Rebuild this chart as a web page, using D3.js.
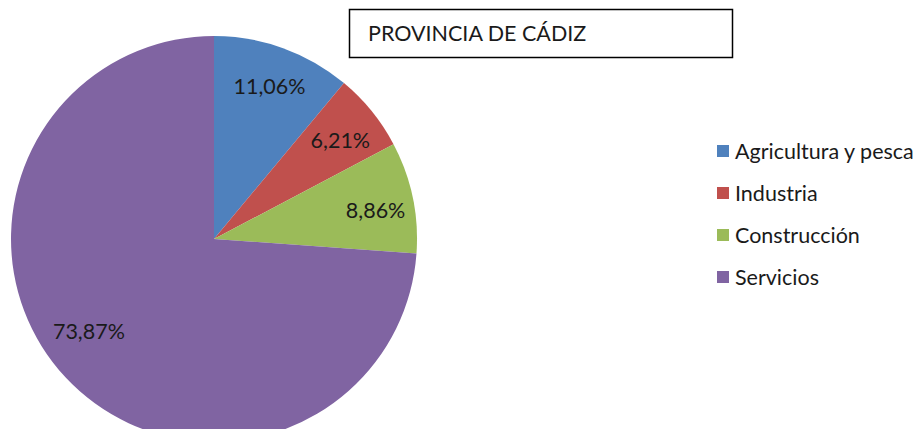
<!DOCTYPE html>
<html><head><meta charset="utf-8">
<script src="https://cdn.jsdelivr.net/npm/d3@7"></script>
<style>body{margin:0;background:#fff;}svg{display:block;}</style>
</head><body>
<svg id="chart" width="919" height="429"></svg>
<script>
const title = "PROVINCIA DE CÁDIZ";
const categories = ["Agricultura y pesca", "Industria", "Construcción", "Servicios"];
const values = [11.06, 6.21, 8.86, 73.87];
const labels = ["11,06%", "6,21%", "8,86%", "73,87%"];
const colors = ["#4F81BD", "#C0504D", "#9BBB59", "#8064A2"];

const svg = d3.select("#chart");
const font = "Lato, 'Open Sans', sans-serif";
const cx = 214, cy = 239, r = 203;
// small style nudges for label placement (Excel "best fit")
const labelNudge = [[1, -3], [2, 2], [5, 4], [-8, -17]];

const pie = d3.pie().sort(null).value(d => d)(values);
const arc = d3.arc().innerRadius(0).outerRadius(r);
const labelArc = d3.arc().innerRadius(160).outerRadius(160);
const color = d3.scaleOrdinal().domain(categories).range(colors);

const g = svg.append("g").attr("transform", `translate(${cx},${cy})`);
g.selectAll("path").data(pie).join("path")
  .attr("d", arc).attr("fill", (d, i) => color(categories[i]));

g.selectAll("text").data(pie).join("text")
  .attr("transform", (d, i) => {
    const c = labelArc.centroid(d);
    return `translate(${c[0] + labelNudge[i][0]},${c[1] + labelNudge[i][1]})`;
  })
  .attr("text-anchor", "middle").attr("dominant-baseline", "central")
  .attr("font-family", font).attr("font-size", 21.5).attr("fill", "#1a1a1a")
  .text((d, i) => labels[i]);

// Title box
svg.append("rect").attr("x", 349.5).attr("y", 9.5).attr("width", 383).attr("height", 48)
  .attr("fill", "#fff").attr("stroke", "#000").attr("stroke-width", 1.5);
svg.append("text").attr("x", 368).attr("y", 41).attr("font-family", font)
  .attr("font-size", 21.5).attr("fill", "#1a1a1a").text(title);

// Legend
const ly = d3.scalePoint().domain(categories).range([151, 277]);
const leg = svg.append("g").selectAll("g").data(categories).join("g")
  .attr("transform", d => `translate(717,${ly(d)})`);
leg.append("rect").attr("x", 0).attr("y", -6).attr("width", 12).attr("height", 12)
  .attr("fill", d => color(d));
leg.append("text").attr("x", 18).attr("y", 0).attr("dominant-baseline", "central")
  .attr("font-family", font).attr("font-size", 21.5).attr("fill", "#1a1a1a").text(d => d);
</script>
</body></html>
